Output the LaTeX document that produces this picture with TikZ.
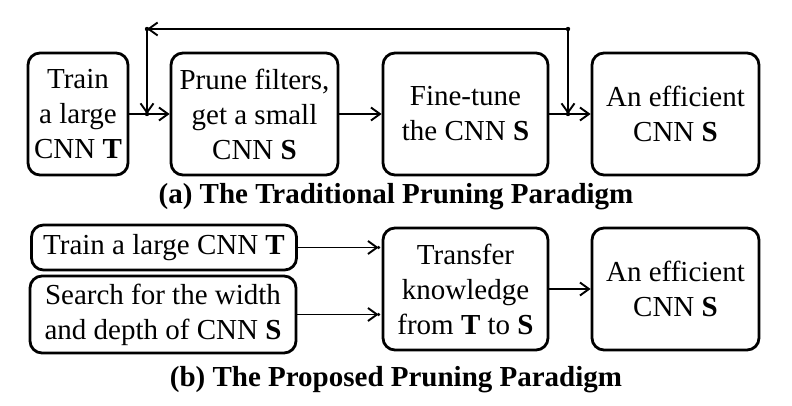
\documentclass[tikz,border=0pt]{standalone}
\usepackage{fontspec}
\setmainfont{Liberation Serif}
\usetikzlibrary{positioning,arrows.meta}

\tikzset{
  stage/.style={draw, line width=2.8pt, rounded corners=12pt, align=center,
    inner sep=0pt, minimum height=122pt, font=\fontsize{29}{35}\selectfont},
  flow/.style={-{Straight Barb[length=9pt,width=13pt]}, line width=1.9pt},
  caption/.style={font=\fontsize{29}{35}\selectfont\bfseries},
  joint/.style={fill=black},
}

\begin{document}
\begin{tikzpicture}[x=1pt,y=-1pt]
  \useasboundingbox (0,0) rectangle (792,406);

  % (a) traditional pipeline
  \node[stage, minimum width=100pt] (t1) at (78,114) {Train\\a large\\CNN \textbf{T}};
  \node[stage, minimum width=167pt] (t2) at (254.5,114) {Prune filters,\\get a small\\CNN \textbf{S}};
  \node[stage, minimum width=165pt] (t3) at (465.5,114) {Fine-tune\\the CNN \textbf{S}};
  \node[stage, minimum width=167pt] (t4) at (675.5,114) {An efficient\\CNN \textbf{S}};

  \draw[flow] (t1) -- (t2);
  \draw[flow] (t2) -- (t3);
  \draw[flow] (t3) -- (t4);

  % Feedback loop
  \coordinate (jl) at (147,114);
  \coordinate (jr) at (568,114);
  \coordinate (cl) at (147,29);
  \coordinate (cr) at (568,29);
  \draw[flow] (cr) -- (jr);
  \draw[flow] (cr) -- (cl);
  \draw[flow] (cl) -- (jl);
  \foreach \p in {jl,jr,cl,cr} \fill[joint] (\p) circle (2.2pt);

  \node[caption] (capa) at (396,197) {(a) The Traditional Pruning Paradigm};

  % (b) proposed pipeline
  \node[stage, minimum width=265pt, minimum height=45pt] (b1) at (164,247.5) {Train a large CNN \textbf{T}};
  \node[stage, minimum width=266pt, minimum height=77pt] (b2) at (163,314.5) {Search for the width\\and depth of CNN \textbf{S}};
  \node[stage, minimum width=165pt] (b3) at (465.5,289) {Transfer\\knowledge\\from \textbf{T} to \textbf{S}};
  \node[stage, minimum width=167pt] (b4) at (675.5,289) {An efficient\\CNN \textbf{S}};

  \coordinate (in1) at ([xshift=-3pt]b3.west |- b1.east);
  \coordinate (in2) at ([xshift=-3pt]b3.west |- b2.east);
  \draw[flow] (b1.east) -- (in1);
  \draw[flow] (b2.east) -- (in2);
  \foreach \p in {in1,in2} \fill[joint] (\p) circle (1.8pt);
  \draw[flow] (b3) -- (b4);

  \node[caption] (capb) at (396,380) {(b) The Proposed Pruning Paradigm};
\end{tikzpicture}
\end{document}
